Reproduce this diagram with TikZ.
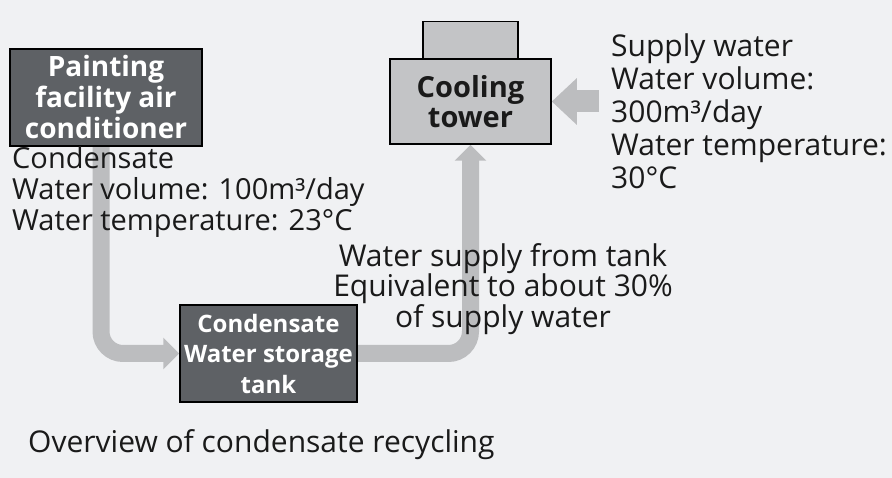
\documentclass[tikz,border=0pt]{standalone}
\usepackage{fontspec}
\setmainfont{Open Sans}
\usetikzlibrary{arrows.meta}
\definecolor{bg}{HTML}{F0F1F3}
\definecolor{darkbox}{HTML}{5E6165}
\definecolor{lightbox}{HTML}{C3C4C6}
\definecolor{arr}{HTML}{BCBDBF}
\definecolor{txt}{HTML}{1A1A1A}
\pgfdeclarelayer{canvas}
\pgfdeclarelayer{arrows}
\pgfsetlayers{canvas,arrows,main}
\begin{document}
\begin{tikzpicture}[x=1pt,y=-1pt,
  darkstyle/.style={draw=black, line width=1.5pt, fill=darkbox, text=white, font=\fontsize{28}{31}\selectfont\bfseries, align=center, inner sep=0pt},
  lightstyle/.style={draw=black, line width=1.5pt, fill=lightbox, text=txt, font=\fontsize{29}{30}\selectfont\bfseries, align=center, inner sep=0pt},
  plain/.style={text=txt, font=\fontsize{30}{33}\selectfont, inner sep=0pt},
  flow/.style={draw=arr, line width=17pt, rounded corners=22pt, -{Triangle[length=16pt,width=31pt]}},
  bigflow/.style={draw=arr, line width=22pt, -{Triangle[length=25pt,width=45pt]}}
]
\begin{pgfonlayer}{canvas}
\fill[bg] (0,0) rectangle (892,478);
\end{pgfonlayer}
\useasboundingbox (0,0) rectangle (892,478);

\node[lightstyle, minimum width=95pt, minimum height=38pt] (top) at (470.5,40.5) {};
\node[lightstyle, minimum width=161pt, minimum height=85pt] (tower) at (470.5,101.5) {Cooling\\tower};

\node[darkstyle, minimum width=192pt, minimum height=97pt] (paint) at (106,97.5) {Painting\\facility air\\conditioner};
\node[darkstyle, minimum width=177pt, minimum height=97pt, font=\fontsize{24}{30.5}\selectfont\bfseries] (tank) at (268.5,353.5) {Condensate\\Water storage\\tank};

\node[plain, anchor=base west, align=left, font=\fontsize{29}{31}\selectfont] (cond) at (12,231) {Condensate\\Water volume: 100m³/day\\Water temperature: 23°C};
\node[plain, anchor=base west, align=left, font=\fontsize{30}{33}\selectfont] (supply) at (611,189) {Supply water\\Water volume:\\300m³/day\\Water temperature:\\30°C};
\node[plain, anchor=base, align=center, font=\fontsize{30}{30}\selectfont] (ws) at (503,328) {Water supply from tank\\Equivalent to about 30\%\\of supply water};
\node[plain, anchor=base west] (cap) at (28,452) {Overview of condensate recycling};

\coordinate (sstart) at ([xshift=47pt]tower.east);

\begin{pgfonlayer}{arrows}
\path[flow] ([xshift=-5pt]paint.south) |- (tank.west);
\path[flow] (tank.east) -| (tower.south);
\path[bigflow] (sstart) -- (tower.east);
\end{pgfonlayer}
\end{tikzpicture}
\end{document}
